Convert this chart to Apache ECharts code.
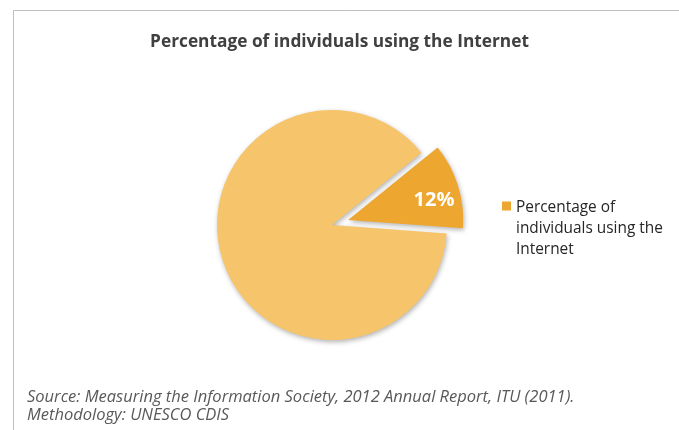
<!DOCTYPE html>
<html><head><meta charset="utf-8">
<script src="https://cdn.jsdelivr.net/npm/echarts@6/dist/echarts.min.js"></script>
<style>html,body{margin:0;padding:0;background:#fff}#c{width:679px;height:430px}</style>
</head><body><div id="c"></div>
<script>
var titleText = 'Percentage of individuals using the Internet';
var sourceLines = ['Source: Measuring the Information Society, 2012 Annual Report, ITU (2011).', 'Methodology: UNESCO CDIS'];
var sliceNames = ['Percentage of individuals using the Internet', 'Other'];
var sliceValues = [12, 88];
var sliceColors = ['#EDA62F', '#F6C46B'];

var chart = echarts.init(document.getElementById('c'));
var font = '"Open Sans", Lato, sans-serif';
chart.setOption({
  animation: false,
  graphic: [{
    type: 'rect', shape: {x: 13.5, y: 10.5, width: 700, height: 440},
    style: {fill: 'none', stroke: '#BFBFBF', lineWidth: 1}, silent: true
  }],
  title: [{
    text: titleText, left: 'center', top: 29,
    textStyle: {fontFamily: font, fontSize: 17.3, fontWeight: 'bold', color: '#404040'}
  }, {
    text: sourceLines.join('\n'), left: 22, top: 383,
    textStyle: {fontFamily: font, fontSize: 16.5, fontStyle: 'italic', fontWeight: 'normal', color: '#595959', lineHeight: 18}
  }],
  legend: {
    data: [sliceNames[0]], left: 497, top: 192, orient: 'vertical',
    icon: 'path://M0,0h9v9h-9z M0,53.9h0.1v0.1h-0.1z',
    itemWidth: 9, itemHeight: 54, itemGap: 0, selectedMode: false,
    formatter: function (n) { return n.replace(' individuals', '\nindividuals').replace(' Internet', '\nInternet'); },
    textStyle: {fontFamily: font, fontSize: 15.4, color: '#262626', lineHeight: 21}
  },
  series: [{
    type: 'pie', center: [332, 225], radius: 115, startAngle: 39, clockwise: true,
    selectedMode: 'single', selectedOffset: 17,
    itemStyle: {shadowBlur: 5, shadowColor: 'rgba(0,0,0,0.3)', shadowOffsetX: 1, shadowOffsetY: 2},
    labelLine: {show: false},
    emphasis: {disabled: true},
    data: sliceNames.map(function (n, i) {
      return {
        name: n, value: sliceValues[i], selected: i === 0,
        itemStyle: {color: sliceColors[i]},
        label: i === 0 ? {show: true, position: 'inside', formatter: '{c}%', color: '#fff', fontFamily: font, fontSize: 20, fontWeight: 'bold'} : {show: false}
      };
    }),
    labelLayout: function (p) { return p.dataIndex === 0 ? {dx: 28, dy: -2} : {}; }
  }]
});
</script></body></html>
